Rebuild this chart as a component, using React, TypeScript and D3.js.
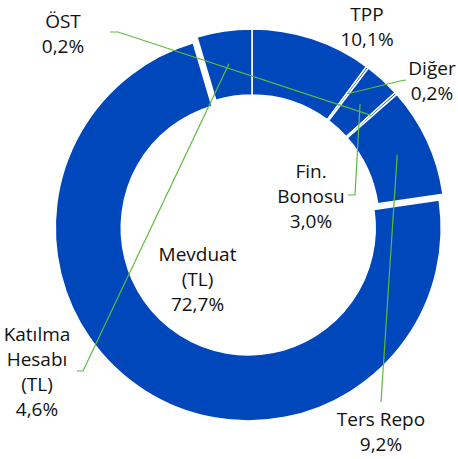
import React from 'react';
import * as d3 from 'd3';

// shares of each instrument, clockwise from 12 o'clock
const categories = ['TPP', 'Diğer', 'Fin. Bonosu', 'ÖST', 'Ters Repo', 'Mevduat (TL)', 'Katılma Hesabı (TL)'];
const values = [10.1, 0.2, 3.0, 0.2, 9.2, 72.7, 4.6];
const labelLines = [['TPP'], ['Diğer'], ['Fin.', 'Bonosu'], ['ÖST'], ['Ters Repo'], ['Mevduat', '(TL)'], ['Katılma', 'Hesabı', '(TL)']];

// layout (label x centre, first baseline, leader elbow)
const labelPos = [
  { x: 367, y: 21, elbow: null },
  { x: 432, y: 75, elbow: [[406, 80], [400, 81]] },
  { x: 311, y: 178, elbow: [[348, 195], [355, 195]] },
  { x: 63, y: 28, elbow: [[110, 32], [118, 32]] },
  { x: 381, y: 426, elbow: [[381, 402], [381, 402]] },
  { x: 197.5, y: 261, elbow: null },
  { x: 37, y: 341, elbow: [[77, 371], [83, 371]] },
];
const explodedIdx = 5;

const width = 458;
const height = 459;
const cx = 252;
const cy = 222;
const outerR = 193;
const innerR = 127;
const lineH = 25;

const blue = '#0047BB';
const green = '#5DBB3A';

const fmt = (v: number) => d3.format('.1f')(v).replace('.', ',') + '%';

const App = () => {
  const pie = d3.pie<number>().sort(null).value(d => d).startAngle(0).endAngle(2 * Math.PI);
  const arcs = pie(values);
  const arc = d3.arc<d3.PieArcDatum<number>>().innerRadius(innerR).outerRadius(outerR);

  return (
    <svg width={width} height={height} style={{ position: 'absolute', left: 0, top: 0, background: '#fff' }}
      fontFamily="'Open Sans', 'Noto Sans', sans-serif" fontSize={19}>
      <g transform={`translate(${cx},${cy})`}>
        {arcs.map((a, i) => {
          let dx = 0, dy = 0;
          if (i === explodedIdx) {
            const mid = (a.startAngle + a.endAngle) / 2;
            dx = Math.sin(mid) * 7;
            dy = -Math.cos(mid) * 7;
          }
          return (
            <path key={categories[i]} d={arc(a) || ''} transform={`translate(${dx},${dy})`}
              fill={blue} stroke="#fff" strokeWidth={1.5} />
          );
        })}
      </g>
      {/* leader lines */}
      {arcs.map((a, i) => {
        const lp = labelPos[i];
        if (!lp.elbow) return null;
        const [c0, c1] = arc.centroid(a);
        const pts: [number, number][] = [lp.elbow[0] as [number, number], lp.elbow[1] as [number, number], [c0 + cx, c1 + cy]];
        return <path key={'l' + i} d={d3.line()(pts) || ''} fill="none" stroke={green} strokeWidth={1.2} />;
      })}
      {/* labels */}
      {labelLines.map((lines, i) => {
        const lp = labelPos[i];
        const all = [...lines, fmt(values[i])];
        return (
          <text key={'t' + i} textAnchor="middle" fill="#111">
            {all.map((s, j) => (
              <tspan key={j} x={lp.x} y={lp.y + j * lineH}>{s}</tspan>
            ))}
          </text>
        );
      })}
    </svg>
  );
};

export default App;
